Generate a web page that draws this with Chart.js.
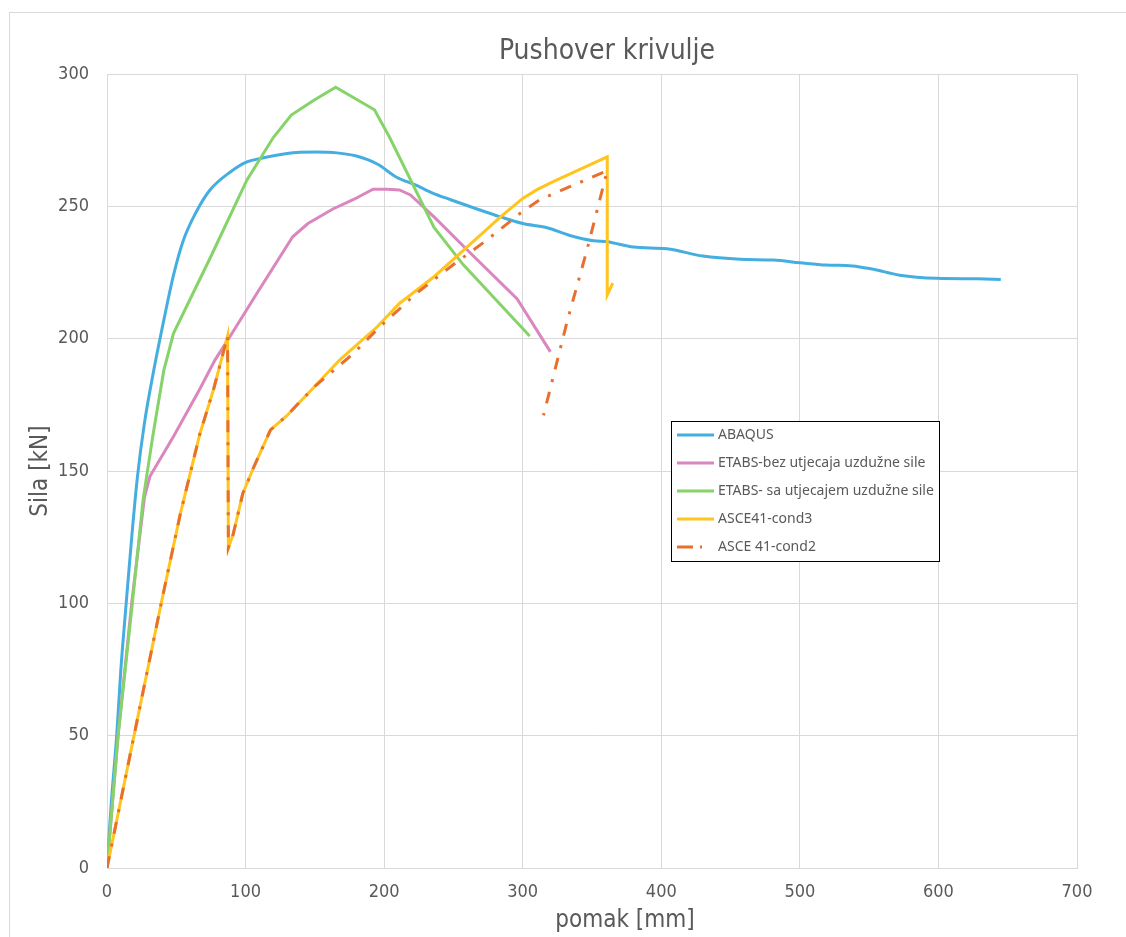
<!DOCTYPE html>
<html>
<head>
<meta charset="utf-8">
<script src="https://cdn.jsdelivr.net/npm/chart.js@4.4.1/dist/chart.umd.min.js"></script>
<style>
  html, body { margin: 0; padding: 0; background: #fff; }
  #wrap { position: relative; width: 1126px; height: 937px; }
</style>
</head>
<body>
<div id="wrap"><canvas id="pushChart" width="1126" height="937"></canvas></div>
<script>
// Data (x = pomak [mm], y = sila [kN])
const abaqusX = [0, 3, 7, 10, 14, 18, 22, 27, 33, 41, 48, 55, 63.5, 74, 89, 101, 110, 130, 151, 166, 180, 195, 209, 223, 235, 248, 267, 284, 300, 317, 334, 351, 361, 380, 404, 430, 457, 481, 500, 519, 538, 553, 572, 599, 628, 645];
const abaqusY = [0, 24, 50, 75, 101, 126, 148, 168, 186, 207, 224, 237, 247, 256, 263, 266.8, 268, 270, 270.5, 270.2, 269, 266, 261, 258, 255, 252.5, 249, 246, 243.5, 242, 239, 237, 236.6, 234.6, 234, 231.2, 230, 229.7, 228.7, 227.8, 227.5, 226.2, 224, 222.8, 222.6, 222.4];

const etabsBezX = [0, 8, 18, 27, 31, 48, 67, 78, 89, 108, 134, 145, 163, 178, 192, 202, 211, 219, 236, 260, 296, 320];
const etabsBezY = [0, 50, 101, 140, 148, 163, 181, 192, 201, 217, 238.5, 243.5, 249, 252.6, 256.5, 256.5, 256.2, 254.3, 246, 233.5, 215, 195];

const etabsSaX = [0, 8, 18.5, 26, 33, 41, 48, 74, 101, 120, 133, 149, 165, 193, 204, 236, 257, 305];
const etabsSaY = [0, 50, 101, 139, 163, 188, 202, 230, 260, 276, 284.5, 290, 295, 286.5, 276, 242, 228, 201];

const cond3X = [0, 19.5, 39.5, 53, 60, 67, 77, 87, 87.6, 91, 98, 106, 118, 130, 139, 150, 168, 195, 211, 236, 260, 284, 300, 310, 322, 361, 361, 365];
const cond3Y = [0, 50, 101, 134, 149, 164, 181, 201, 121, 126, 141.5, 151.6, 165.5, 171, 176, 182, 192, 204.5, 213.3, 223.4, 234.7, 246, 253, 256.2, 259.3, 268.7, 216.5, 221];

const cond2X = [0, 19.5, 39.5, 53, 60, 67, 77, 87, 87.6, 91, 98, 106, 118, 130, 139, 150, 168, 178, 197, 223, 250, 274, 298, 312, 334, 361, 346, 332, 315];
const cond2Y = [0, 50, 101, 134, 149, 164, 181, 201, 121, 126, 141.5, 151.6, 165.5, 171, 176, 182, 190, 194.5, 204.5, 217, 228, 237.2, 247.3, 252.4, 257.4, 263.5, 232.8, 206.4, 171];

const seriesNames = ['ABAQUS', 'ETABS-bez utjecaja uzdužne sile', 'ETABS- sa utjecajem uzdužne sile', 'ASCE41-cond3', 'ASCE 41-cond2'];
const seriesColors = ['#45AEE0', '#DA86BF', '#86D36A', '#FFC41E', '#E8702F'];
const xTicks = [0, 100, 200, 300, 400, 500, 600, 700];
const yTicks = [0, 50, 100, 150, 200, 250, 300];

const narrow = '"Liberation Sans Narrow", "Arial Narrow", "DejaVu Sans Condensed", sans-serif';
const textGray = '#595959';
const dashDot = [12, 10, 3, 10];

function toPoints(xs, ys) {
    return xs.map((x, i) => ({ x: x, y: ys[i] }));
}

// frame, titles and legend box like the Excel original
const decorPlugin = {
    id: 'decor',
    beforeDraw(chart) {
        const ctx = chart.ctx;
        ctx.save();
        ctx.fillStyle = '#fff';
        ctx.fillRect(0, 0, chart.width, chart.height);
        ctx.strokeStyle = '#d9d9d9';
        ctx.lineWidth = 1;
        ctx.strokeRect(9.5, 12.5, 1200, 1000);
        ctx.restore();
    },
    afterDraw(chart) {
        const ctx = chart.ctx;
        ctx.save();
        ctx.fillStyle = textGray;
        ctx.textAlign = 'center';
        ctx.textBaseline = 'middle';
        ctx.font = '28px ' + narrow;
        ctx.fillText('Pushover krivulje', 607, 52);
        ctx.font = '24px ' + narrow;
        ctx.fillText('pomak [mm]', 625, 921);

        // legend
        const box = { left: 671.5, top: 421.5, w: 268, h: 140 };
        ctx.fillStyle = '#fff';
        ctx.fillRect(box.left, box.top, box.w, box.h);
        ctx.strokeStyle = '#000';
        ctx.lineWidth = 1;
        ctx.strokeRect(box.left, box.top, box.w, box.h);
        ctx.font = '14px "Noto Sans", sans-serif';
        ctx.textAlign = 'left';
        seriesNames.forEach((name, i) => {
            const y = 435 + i * 28;
            ctx.strokeStyle = seriesColors[i];
            ctx.lineWidth = 3;
            ctx.setLineDash(i === 4 ? [16, 7, 2, 20] : []);
            ctx.beginPath();
            ctx.moveTo(677, y);
            ctx.lineTo(714, y);
            ctx.stroke();
            ctx.setLineDash([]);
            ctx.fillStyle = textGray;
            ctx.fillText(name, 718, y);
        });
        ctx.restore();
    }
};

const datasetDefs = [
    { data: toPoints(abaqusX, abaqusY), order: 5, cubicInterpolationMode: 'monotone' },
    { data: toPoints(etabsBezX, etabsBezY), order: 4 },
    { data: toPoints(etabsSaX, etabsSaY), order: 3 },
    { data: toPoints(cond3X, cond3Y), order: 2 },
    { data: toPoints(cond2X, cond2Y), order: 1, borderDash: dashDot }
];

const ctx = document.getElementById('pushChart').getContext('2d');
new Chart(ctx, {
    type: 'line',
    data: {
        datasets: datasetDefs.map((d, i) => Object.assign({
            label: seriesNames[i],
            borderColor: seriesColors[i],
            backgroundColor: seriesColors[i],
            borderWidth: 3,
            pointRadius: 0,
            fill: false,
            tension: 0
        }, d))
    },
    options: {
        responsive: false,
        animation: false,
        layout: { padding: { top: 74, right: 49, left: 0, bottom: 0 } },
        plugins: {
            legend: { display: false },
            title: { display: false },
            tooltip: { enabled: false }
        },
        scales: {
            x: {
                type: 'linear',
                min: 0,
                max: 700,
                afterFit: scale => { scale.height = 69; },
                afterBuildTicks: scale => { scale.ticks = xTicks.map(v => ({ value: v })); },
                grid: { color: '#d9d9d9', drawTicks: false },
                border: { color: '#d9d9d9' },
                ticks: { padding: 14, color: textGray, font: { family: narrow, size: 18 } }
            },
            y: {
                type: 'linear',
                min: 0,
                max: 300,
                afterFit: scale => { scale.width = 107; },
                afterBuildTicks: scale => { scale.ticks = yTicks.map(v => ({ value: v })); },
                grid: { color: '#d9d9d9', drawTicks: false },
                border: { color: '#d9d9d9' },
                ticks: { padding: 18, color: textGray, font: { family: narrow, size: 18 } },
                title: {
                    display: true,
                    text: 'Sila [kN]',
                    color: textGray,
                    font: { family: narrow, size: 24 },
                    padding: { top: 26, bottom: 0 }
                }
            }
        }
    },
    plugins: [decorPlugin]
});
</script>
</body>
</html>
